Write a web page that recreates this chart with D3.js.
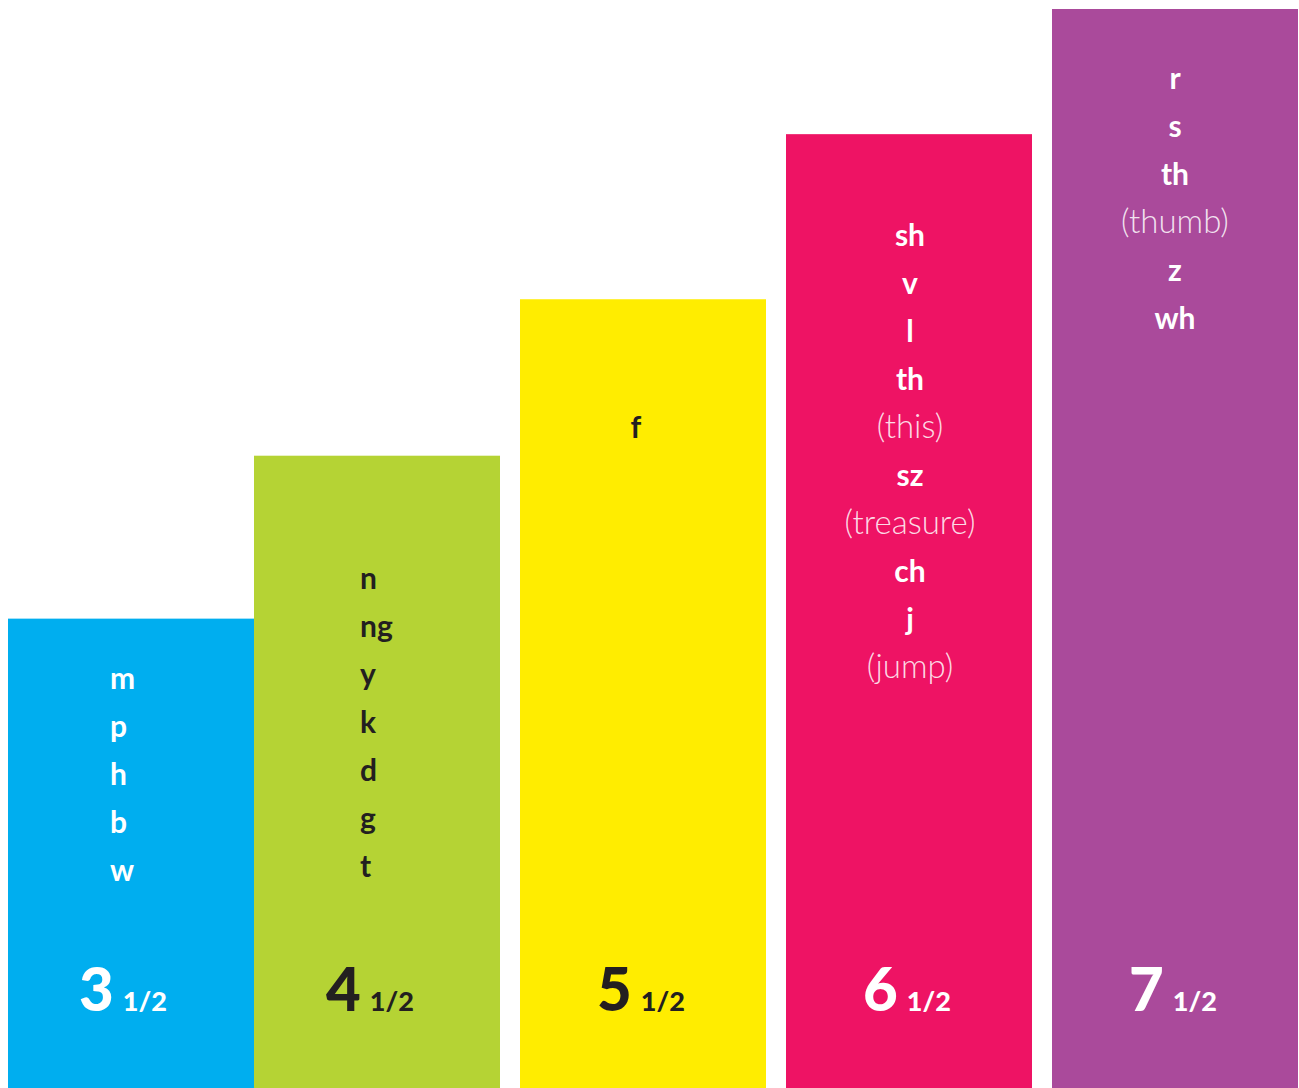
<!DOCTYPE html>
<html>
<head>
<meta charset="utf-8">
<script src="https://cdn.jsdelivr.net/npm/d3@7/dist/d3.min.js"></script>
<style>
  html, body { margin: 0; padding: 0; background: #ffffff; }
  svg { display: block; }
  text { font-family: Lato, "Open Sans", sans-serif; }
</style>
</head>
<body>
<svg id="chart" width="1299" height="1088"></svg>
<script>
// ---- data ----
const ages = ["3", "4", "5", "6", "7"];
const fraction = "1/2";
const heights = [43.5, 58.6, 73.1, 88.4, 100];   // relative bar height (percent of tallest)
const sounds = [
  ["m", "p", "h", "b", "w"],
  ["n", "ng", "y", "k", "d", "g", "t"],
  ["f"],
  ["sh", "v", "l", "th", "(this)", "sz", "(treasure)", "ch", "j", "(jump)"],
  ["r", "s", "th", "(thumb)", "z", "wh"]
];
const barColors = ["#00aeef", "#b5d334", "#ffed00", "#ee1364", "#aa4a9b"];
const textColors = ["#ffffff", "#231f20", "#231f20", "#ffffff", "#ffffff"];

// ---- layout ----
const W = 1299, H = 1088;
const svg = d3.select("#chart");
// bars 2..5 evenly spaced; bar 1 sits flush against bar 2
const x = d3.scaleBand().domain(ages.slice(1)).range([254, 1298]).paddingInner(20 / 266).paddingOuter(0);
const bw = x.bandwidth();
const xPos = i => i === 0 ? x(ages[1]) - bw : x(ages[i]);
const y = d3.scaleLinear().domain([0, 100]).range([H, 9]);

const labelStyle = [
  { anchor: "start", dx: 102, first: 70, ageDx: -8 },
  { anchor: "start", dx: 106, first: 133, ageDx: -7 },
  { anchor: "middle", dx: 116, first: 139, ageDx: -2 },
  { anchor: "middle", dx: 124, first: 112, ageDx: -2 },
  { anchor: "middle", dx: 123, first: 80, ageDx: -2 }
];
const lineStep = 48;

const g = svg.selectAll("g.bar").data(ages).join("g").attr("class", "bar");

g.append("rect")
  .attr("x", (d, i) => xPos(i))
  .attr("y", (d, i) => y(heights[i]))
  .attr("width", bw)
  .attr("height", (d, i) => H - y(heights[i]))
  .attr("fill", (d, i) => barColors[i]);

g.each(function (d, i) {
  const grp = d3.select(this);
  const st = labelStyle[i];
  const top = y(heights[i]);
  const x0 = xPos(i);
  grp.selectAll("text.sound").data(sounds[i]).join("text")
    .attr("class", "sound")
    .attr("x", x0 + st.dx)
    .attr("y", (s, j) => top + st.first + j * lineStep)
    .attr("text-anchor", st.anchor)
    .attr("font-size", s => s.startsWith("(") ? 33 : 30)
    .attr("font-weight", s => s.startsWith("(") ? 300 : 700)
    .attr("fill", textColors[i])
    .attr("fill-opacity", s => s.startsWith("(") ? 0.85 : 1)
    .text(s => s);

  const age = grp.append("text")
    .attr("class", "age")
    .attr("x", x0 + bw / 2 + st.ageDx)
    .attr("y", 1011)
    .attr("text-anchor", "middle")
    .attr("fill", textColors[i]);
  age.append("tspan").attr("font-size", 60).attr("font-weight", 900).text(d);
  age.append("tspan").attr("dx", 9).attr("font-size", 27).attr("font-weight", 900).text(fraction);
});
</script>
</body>
</html>
